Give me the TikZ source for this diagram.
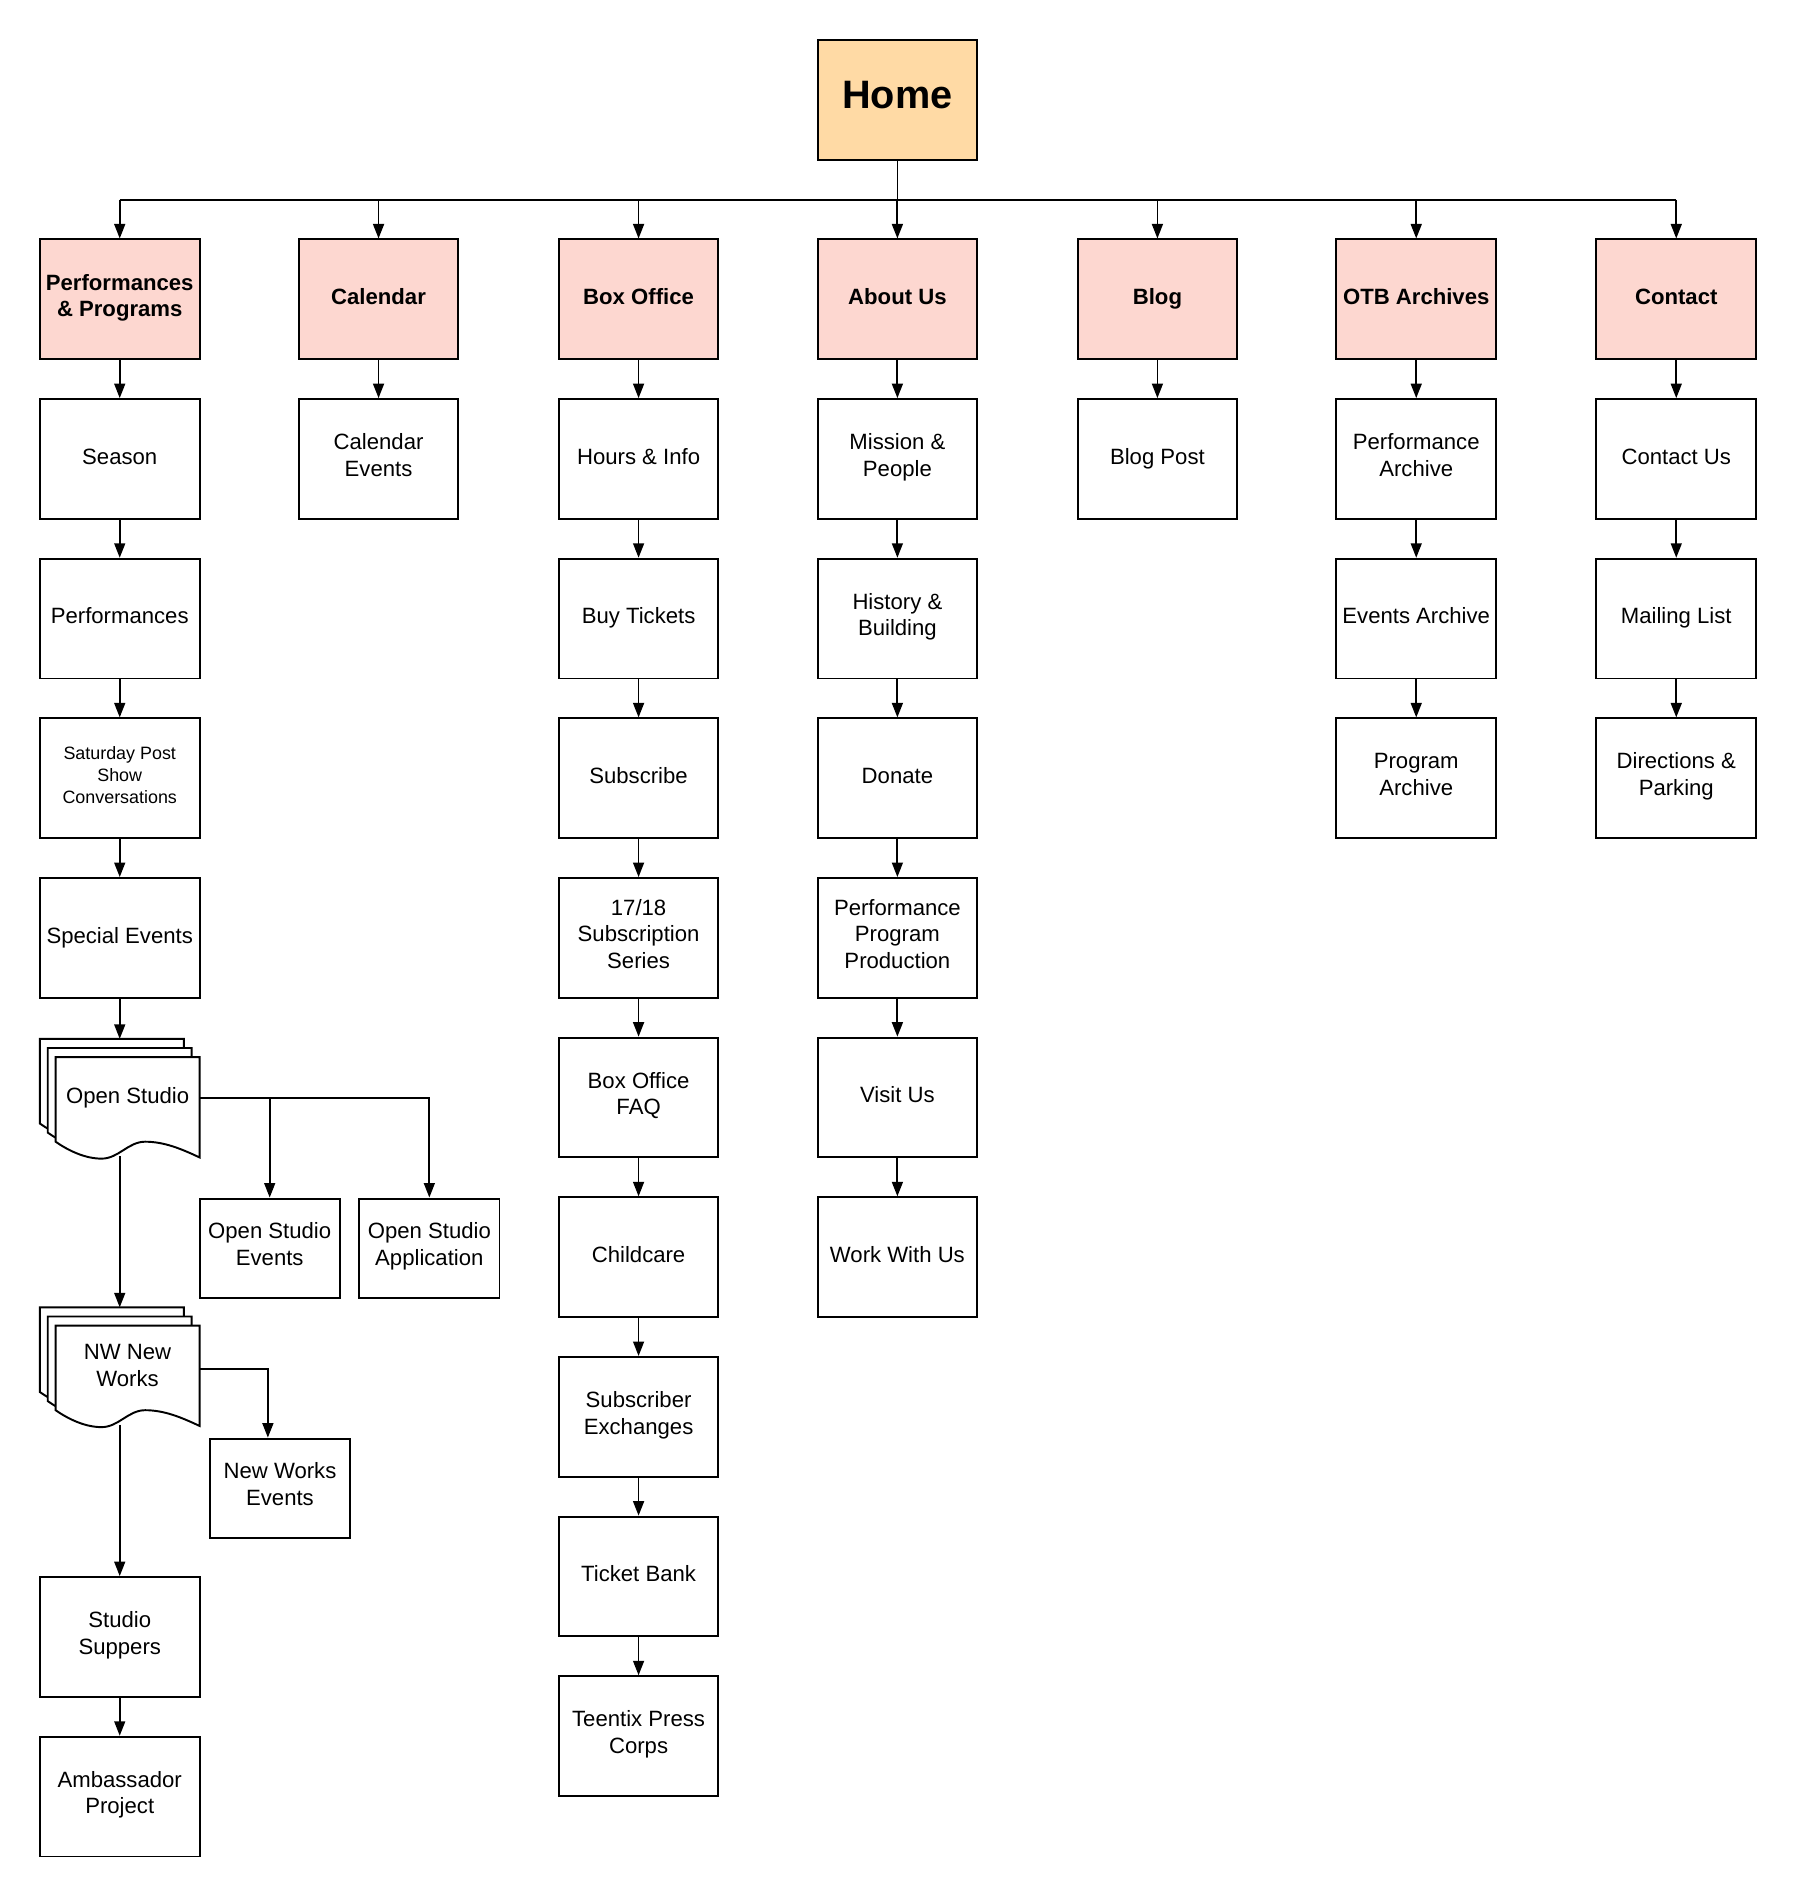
\documentclass[tikz,border=0pt]{standalone}
\usepackage{fontspec}
\setmainfont{Liberation Sans}
\usetikzlibrary{arrows.meta}

\definecolor{homefill}{RGB}{255,218,165}
\definecolor{sectionfill}{RGB}{253,215,208}

% one page of a document stack, top left corner at (#1,#2)
\newcommand{\docsheet}[2]{%
  \draw[sheet,shift={(#1,#2)}] (0,0) -- (119,0) -- (119,83)
    .. controls (104,76) and (90,70) .. (74,70)
    .. controls (60,70) and (52,84) .. (38,84)
    .. controls (24,84) and (10,77) .. (0,70) -- cycle;}

\begin{document}
\begin{tikzpicture}[x=1pt,y=-1pt,
    page/.style={draw, line width=1.6pt, minimum width=132pt, minimum height=99pt,
      inner sep=0pt, align=center, font=\fontsize{18.3}{22}\selectfont,
      execute at begin node=\strut, execute at end node=\strut},
    section/.style={page, fill=sectionfill, font=\fontsize{18.3}{22}\selectfont\bfseries},
    small/.style={page, font=\fontsize{14.8}{18}\selectfont},
    sheet/.style={draw, fill=white, line width=1.6pt},
    doctext/.style={minimum width=119pt, minimum height=66pt, inner sep=0pt,
      align=center, font=\fontsize{18.3}{22}\selectfont,
      execute at begin node=\strut, execute at end node=\strut},
    leaf/.style={page, minimum width=116pt, minimum height=82pt},
    arr/.style={-{Triangle[length=12pt,width=9pt]}, line width=1.5pt},
    bus/.style={line width=1.7pt}]

      \useasboundingbox (0,0) rectangle (1488,1571);

      % Top level
      \node[page, fill=homefill, font=\fontsize{32.8}{38}\selectfont\bfseries] (home) at (742,82.5) {Home};
      \coordinate (bus) at (742,165);

      % Sections
      \node[section] (perf) at (99,247.5) {Performances\\\& Programs};
      \node[section] (cal) at (313,247.5) {Calendar};
      \node[section] (boxoffice) at (528,247.5) {Box Office};
      \node[section] (about) at (742,247.5) {About Us};
      \node[section] (blog) at (957,247.5) {Blog};
      \node[section] (archives) at (1171,247.5) {OTB Archives};
      \node[section] (contact) at (1386,247.5) {Contact};

      % Performances & Programs
      \node[page] (season) at (99,379.5) {Season};
      \node[page] (shows) at (99,511.5) {Performances};
      \node[small] (satpost) at (99,643.5) {Saturday Post\\Show\\Conversations};
      \node[page] (special) at (99,775.5) {Special Events};
      \coordinate (osstack) at (99,859);
      \docsheet{33}{859}
      \docsheet{39.5}{866.5}
      \docsheet{46}{874}
      \node[doctext] (ostudio) at (105.5,908) {Open Studio};
      \coordinate (osfoot) at (99,956);
      \node[leaf] (osevents) at (223,1032) {Open Studio\\Events};
      \node[leaf] (osapp) at (355,1032) {Open Studio\\Application};
      \coordinate (nwstack) at (99,1081);
      \docsheet{33}{1081}
      \docsheet{39.5}{1088.5}
      \docsheet{46}{1096}
      \node[doctext] (nwworks) at (105.5,1132) {NW New\\Works};
      \coordinate (nwfoot) at (99,1178);
      \node[leaf] (nwevents) at (231.5,1230.5) {New Works\\Events};
      \node[page] (suppers) at (99,1353.5) {Studio\\Suppers};
      \node[page] (ambassador) at (99,1485.5) {Ambassador\\Project};

      % Calendar
      \node[page] (calevents) at (313,379.5) {Calendar\\Events};

      % Box Office
      \node[page] (hours) at (528,379.5) {Hours \& Info};
      \node[page] (tickets) at (528,511.5) {Buy Tickets};
      \node[page] (subscribe) at (528,643.5) {Subscribe};
      \node[page] (series) at (528,775.5) {17/18\\Subscription\\Series};
      \node[page] (faq) at (528,907.5) {Box Office\\FAQ};
      \node[page] (childcare) at (528,1039.5) {Childcare};
      \node[page] (exchanges) at (528,1171.5) {Subscriber\\Exchanges};
      \node[page] (ticketbank) at (528,1303.5) {Ticket Bank};
      \node[page] (teentix) at (528,1435.5) {Teentix Press\\Corps};

      % About Us
      \node[page] (mission) at (742,379.5) {Mission \&\\People};
      \node[page] (history) at (742,511.5) {History \&\\Building};
      \node[page] (donate) at (742,643.5) {Donate};
      \node[page] (program) at (742,775.5) {Performance\\Program\\Production};
      \node[page] (visit) at (742,907.5) {Visit Us};
      \node[page] (work) at (742,1039.5) {Work With Us};

      % Blog
      \node[page] (blogpost) at (957,379.5) {Blog Post};

      % OTB Archives
      \node[page] (perfarch) at (1171,379.5) {Performance\\Archive};
      \node[page] (eventsarch) at (1171,511.5) {Events Archive};
      \node[page] (progarch) at (1171,643.5) {Program\\Archive};

      % Contact
      \node[page] (contactus) at (1386,379.5) {Contact Us};
      \node[page] (mailing) at (1386,511.5) {Mailing List};
      \node[page] (directions) at (1386,643.5) {Directions \&\\Parking};

      % Home to sections
      \draw[line width=1pt] (home) -- (bus);
      \draw[bus] (bus -| perf) -- (bus -| contact);
      \draw[arr] (bus -| perf) -- (perf);
      \draw[arr] (bus -| cal) -- (cal);
      \draw[arr] (bus -| boxoffice) -- (boxoffice);
      \draw[arr] (bus) -- (about);
      \draw[arr] (bus -| blog) -- (blog);
      \draw[arr] (bus -| archives) -- (archives);
      \draw[arr] (bus -| contact) -- (contact);

      % Performances & Programs links
      \draw[arr] (perf) -- (season);
      \draw[arr] (season) -- (shows);
      \draw[arr] (shows) -- (satpost);
      \draw[arr] (satpost) -- (special);
      \draw[arr] (special) -- (osstack);
      \draw[arr] (ostudio.east) -| (osevents);
      \draw[arr] (ostudio.east) -| (osapp);
      \draw[arr] (osfoot) -- (nwstack);
      \draw[arr] (nwworks.east) -| ([xshift=-10pt]nwevents.north);
      \draw[arr] (nwfoot) -- (suppers);
      \draw[arr] (suppers) -- (ambassador);

      % Calendar links
      \draw[arr] (cal) -- (calevents);

      % Box Office links
      \draw[arr] (boxoffice) -- (hours);
      \draw[arr] (hours) -- (tickets);
      \draw[arr] (tickets) -- (subscribe);
      \draw[arr] (subscribe) -- (series);
      \draw[arr] (series) -- (faq);
      \draw[arr] (faq) -- (childcare);
      \draw[arr] (childcare) -- (exchanges);
      \draw[arr] (exchanges) -- (ticketbank);
      \draw[arr] (ticketbank) -- (teentix);

      % About Us links
      \draw[arr] (about) -- (mission);
      \draw[arr] (mission) -- (history);
      \draw[arr] (history) -- (donate);
      \draw[arr] (donate) -- (program);
      \draw[arr] (program) -- (visit);
      \draw[arr] (visit) -- (work);

      % Blog, Archives, Contact links
      \draw[arr] (blog) -- (blogpost);
      \draw[arr] (archives) -- (perfarch);
      \draw[arr] (perfarch) -- (eventsarch);
      \draw[arr] (eventsarch) -- (progarch);
      \draw[arr] (contact) -- (contactus);
      \draw[arr] (contactus) -- (mailing);
      \draw[arr] (mailing) -- (directions);

    \end{tikzpicture}
\end{document}
